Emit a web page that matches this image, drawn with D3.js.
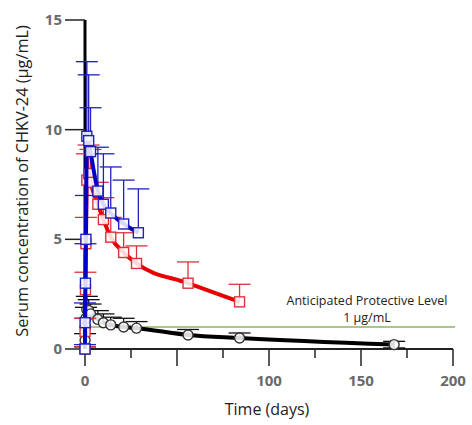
<!DOCTYPE html>
<html>
<head>
<meta charset="utf-8">
<script src="https://cdn.jsdelivr.net/npm/d3@7"></script>
<style>
  body { margin: 0; background: #fff; }
  text { font-family: "Open Sans", sans-serif; }
</style>
</head>
<body>
<script>
// chart data
var blueDays = [0, 0.04, 0.25, 0.5, 1, 2, 3, 7, 10, 14, 21, 29];
var blueMean = [0, 1.2, 3.0, 5.0, 9.7, 9.5, 9.0, 7.2, 6.6, 6.2, 5.7, 5.3];
var blueSd   = [0.2, 0.9, 1.8, 2.0, 3.4, 3.0, 2.0, 2.0, 2.3, 2.1, 2.0, 2.0];

var redDays = [0, 0.04, 0.25, 0.5, 1, 2, 3, 7, 10, 14, 21, 28, 56, 84];
var redMean = [0, 0.8, 2.7, 4.8, 7.7, 8.0, 7.6, 6.6, 5.9, 5.1, 4.4, 3.9, 3.0, 2.15];
var redSd   = [0.1, 0.6, 0.8, 1.2, 1.2, 1.3, 1.5, 1.0, 1.0, 0.9, 0.9, 0.8, 0.97, 0.8];

var blackDays = [0, 0.04, 0.25, 0.5, 1, 2, 3, 7, 10, 14, 21, 28, 56, 84, 168];
var blackMean = [0, 0.4, 1.0, 1.4, 1.8, 1.75, 1.6, 1.35, 1.2, 1.1, 1.0, 0.95, 0.64, 0.5, 0.2];
var blackSd   = [0.1, 0.3, 0.4, 0.5, 0.6, 0.5, 0.45, 0.4, 0.4, 0.35, 0.4, 0.3, 0.25, 0.23, 0.15];

var protectiveLevel = 1;
var xTicks = [0, 50, 100, 150, 200];
var xMinorTicks = [25, 75, 125, 175];
var xTickLabels = ["0", "", "100", "150", "200"];
var yTicks = [0, 5, 10, 15];

var width = 472, height = 425;

var x = d3.scaleLinear().domain([0, 200]).range([85, 453]);
var y = d3.scaleLinear().domain([0, 15]).range([349, 20]);

var svg = d3.select("body").append("svg")
    .attr("width", width)
    .attr("height", height);

// protective level line
svg.append("line")
    .attr("x1", x(0)).attr("x2", x(200) + 2)
    .attr("y1", y(protectiveLevel)).attr("y2", y(protectiveLevel))
    .style("stroke", "#8fb55e")
    .style("stroke-width", 1.5);

svg.append("text")
    .attr("x", 367).attr("y", 305)
    .attr("text-anchor", "middle")
    .style("font-size", "12.5px")
    .style("fill", "#222")
    .text("Anticipated Protective Level");
svg.append("text")
    .attr("x", 367).attr("y", 322)
    .attr("text-anchor", "middle")
    .style("font-size", "12.5px")
    .style("fill", "#222")
    .text("1 µg/mL");

// x axis
svg.append("line")
    .attr("x1", x(0)).attr("x2", x(200))
    .attr("y1", y(0)).attr("y2", y(0))
    .style("stroke", "#222").style("stroke-width", 2);

svg.selectAll(".xtick")
    .data(xTicks)
  .enter().append("line")
    .attr("class", "xtick")
    .attr("x1", function(d) { return x(d); })
    .attr("x2", function(d) { return x(d); })
    .attr("y1", y(0)).attr("y2", y(0) + 17)
    .style("stroke", "#222").style("stroke-width", 1.5);

svg.selectAll(".xminor")
    .data(xMinorTicks)
  .enter().append("line")
    .attr("class", "xminor")
    .attr("x1", function(d) { return x(d); })
    .attr("x2", function(d) { return x(d); })
    .attr("y1", y(0)).attr("y2", y(0) + 9)
    .style("stroke", "#222").style("stroke-width", 1.5);

svg.selectAll(".xlabel")
    .data(xTicks)
  .enter().append("text")
    .attr("class", "xlabel")
    .attr("x", function(d) { return x(d); })
    .attr("y", 386)
    .attr("text-anchor", "middle")
    .style("font-size", "15px")
    .style("font-weight", "bold")
    .style("fill", "#6a6a6a")
    .text(function(d, i) { return xTickLabels[i]; });

svg.append("text")
    .attr("x", 267).attr("y", 415)
    .attr("text-anchor", "middle")
    .style("font-size", "16px")
    .style("fill", "#222")
    .text("Time (days)");

// y axis
svg.append("line")
    .attr("x1", x(0)).attr("x2", x(0))
    .attr("y1", y(15)).attr("y2", y(0))
    .style("stroke", "#000").style("stroke-width", 3);

svg.selectAll(".ytick")
    .data(yTicks)
  .enter().append("line")
    .attr("class", "ytick")
    .attr("x1", x(0) - 20).attr("x2", x(0))
    .attr("y1", function(d) { return y(d); })
    .attr("y2", function(d) { return y(d); })
    .style("stroke", "#222").style("stroke-width", 1.5);

svg.selectAll(".ylabel")
    .data(yTicks)
  .enter().append("text")
    .attr("class", "ylabel")
    .attr("x", 62)
    .attr("y", function(d) { return y(d) + 5; })
    .attr("text-anchor", "end")
    .style("font-size", "15px")
    .style("font-weight", "bold")
    .style("fill", "#6a6a6a")
    .text(function(d) { return d; });

svg.append("text")
    .attr("transform", "translate(28,181) rotate(-90)")
    .attr("text-anchor", "middle")
    .style("font-size", "16.3px")
    .style("fill", "#222")
    .text("Serum concentration of CHKV-24 (µg/mL)");

// one group per dose
function makeSeries(days, mean, sd, lineColor, markColor, shape) {
  var data = days.map(function(d, i) { return { day: d, mean: mean[i], sd: sd[i] }; });
  var g = svg.append("g");

  // error bars, upper side only (last black point both sides)
  data.forEach(function(d, i) {
    var both = shape == "circle" && i == data.length - 1;
    var lo = both ? d.mean - d.sd : d.mean;
    g.append("line")
      .attr("x1", x(d.day)).attr("x2", x(d.day))
      .attr("y1", y(lo)).attr("y2", y(d.mean + d.sd))
      .style("stroke", markColor).style("stroke-width", 1.3);
    g.append("line")
      .attr("x1", x(d.day) - 11).attr("x2", x(d.day) + 11)
      .attr("y1", y(d.mean + d.sd)).attr("y2", y(d.mean + d.sd))
      .style("stroke", markColor).style("stroke-width", 1.3);
    if (both) {
      g.append("line")
        .attr("x1", x(d.day) - 11).attr("x2", x(d.day) + 11)
        .attr("y1", y(lo)).attr("y2", y(lo))
        .style("stroke", markColor).style("stroke-width", 1.3);
    }
  });

  var line = d3.line()
      .x(function(d) { return x(d.day); })
      .y(function(d) { return y(d.mean); })
      .curve(d3.curveMonotoneX);

  g.append("path")
      .datum(data)
      .attr("d", line)
      .style("fill", "none")
      .style("stroke", lineColor)
      .style("stroke-width", 4);

  if (shape == "square") {
    g.selectAll(".mark")
      .data(data)
    .enter().append("rect")
      .attr("x", function(d) { return x(d.day) - 5; })
      .attr("y", function(d) { return y(d.mean) - 5; })
      .attr("width", 10).attr("height", 10)
      .style("fill", "#fff").style("fill-opacity", 0.85)
      .style("stroke", markColor).style("stroke-width", 1.4);
  } else {
    g.selectAll(".mark")
      .data(data)
    .enter().append("circle")
      .attr("cx", function(d) { return x(d.day); })
      .attr("cy", function(d) { return y(d.mean); })
      .attr("r", 5)
      .style("fill", "#fff").style("fill-opacity", 0.85)
      .style("stroke", "#333").style("stroke-width", 1.4);
  }
}

makeSeries(blackDays, blackMean, blackSd, "#000", "#111", "circle");
makeSeries(redDays, redMean, redSd, "#e60000", "#e0303c", "square");
makeSeries(blueDays, blueMean, blueSd, "#0000c8", "#2020c0", "square");
</script>
</body>
</html>
